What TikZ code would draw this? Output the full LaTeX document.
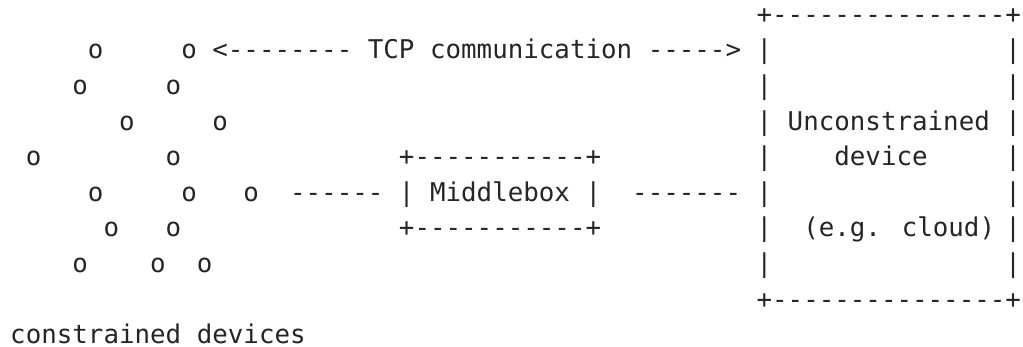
\documentclass[tikz,border=0pt]{standalone}
\usepackage{fontspec}
\usepackage{xcolor}
\usepackage{tikz}
\newfontfamily\asciifont{DejaVu Sans Mono}
\definecolor{ink}{HTML}{252525}

\begin{document}
\begin{tikzpicture}[x = 6.02pt, y = -13.78pt,
		ch/.style = {anchor = base west, inner sep = 0pt, outer sep = 0pt, text = ink, font = \asciifont}]
		\useasboundingbox (-0.656, -0.657) rectangle (65.13, 9.09);
		% constrained devices
		\foreach \c/\r [count = \i] in {5/1, 11/1, 4/2, 10/2, 7/3, 13/3, 1/4, 10/4, 5/5, 11/5, 15/5, 6/6, 10/6, 4/7, 9/7, 12/7}{
			\node[ch] (dev\i) at (\c, \r) {o};
			}
		\node[ch] (cd) at (0, 9) {constrained devices};
		% unconstrained device
		\node[ch] (ctop) at (48, 0) {+---------------+};
		\node[ch] (cbot) at (48, 8) {+---------------+};
		\foreach \r in {1,...,7}{
			\node[ch] (cl\r) at (48, \r) {|};
			\node[ch] (cr\r) at (64, \r) {|};
			}
		\node[ch] (ud1) at (50, 3) {Unconstrained};
		\node[ch] (ud2) at (53, 4) {device};
		\node[ch] (ud3) at (51, 6) {(e.g. cloud)};
		% middlebox
		\node[ch] (mtop) at (25, 4) {+-----------+};
		\node[ch] (mbot) at (25, 6) {+-----------+};
		\node[ch] (ml) at (25, 5) {|};
		\node[ch] (mr) at (37, 5) {|};
		\node[ch] (mb) at (27, 5) {Middlebox};
		% links
		\node[ch] (tcp) at (13, 1) {<-------- TCP communication ----->};
		\node[ch] (l1) at (18, 5) {------};
		\node[ch] (l2) at (40, 5) {-------};
	\end{tikzpicture}
\end{document}
